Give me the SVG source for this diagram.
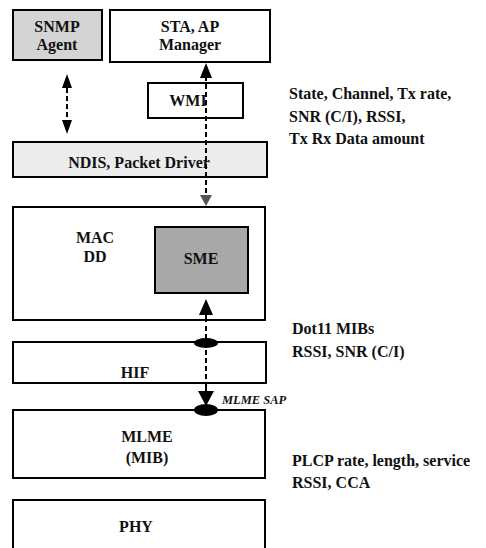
<svg xmlns="http://www.w3.org/2000/svg" width="486" height="548" viewBox="0 0 486 548">
<style>
.box{fill:#fff;stroke:#000;stroke-width:2}
.lbl{font-family:'Liberation Serif','Times New Roman',serif;font-size:16px;font-weight:bold;text-anchor:middle;fill:#111}
.note{font-family:'Liberation Serif','Times New Roman',serif;font-size:16px;font-weight:bold;fill:#111}
.dash{stroke:#000;stroke-width:2;stroke-dasharray:5,3;fill:none}
.solid{stroke:#000;stroke-width:2;fill:none}
</style>
<rect width="486" height="548" fill="#fff"/>
<g id="snmp"><rect class="box" x="13" y="10" width="89" height="50" style="fill:#d4d4d4"/><text class="lbl" x="57" y="32">SNMP</text><text class="lbl" x="57" y="50">Agent</text></g>
<g id="sta"><rect class="box" x="110" y="10" width="160" height="52"/><text class="lbl" x="190" y="32">STA, AP</text><text class="lbl" x="190" y="50">Manager</text></g>
<g id="wmi"><rect class="box" x="148" y="83" width="95" height="35"/><text class="lbl" x="188" y="106">WMI</text></g>
<g id="ndis"><rect class="box" x="13" y="142" width="254" height="35" style="fill:#ececec"/><text class="lbl" x="139" y="168">NDIS, Packet Driver</text></g>
<g id="mac"><rect class="box" x="13" y="207" width="252" height="113"/><text class="lbl" x="95" y="243">MAC</text><text class="lbl" x="95" y="262">DD</text></g>
<g id="sme"><rect class="box" x="155" y="227" width="93" height="66" style="fill:#a8a8a8"/><text class="lbl" x="201" y="264">SME</text></g>
<g id="hif"><rect class="box" x="13" y="342" width="253" height="41"/><text class="lbl" x="135" y="378">HIF</text></g>
<g id="mlme"><rect class="box" x="13" y="410" width="252" height="68"/><text class="lbl" x="147" y="442">MLME</text><text class="lbl" x="147" y="463">(MIB)</text></g>
<g id="phy"><path class="solid" d="M13,548 V500 H265 V548"/><text class="lbl" x="136" y="532">PHY</text></g>
<g id="connectors">
<line class="dash" x1="67" y1="88" x2="67" y2="120"/>
<path d="M62,88 L67,74 L72,88 z" fill="#000"/>
<path d="M62,120 L67,134 L72,120 z" fill="#000"/>
<line class="dash" x1="206" y1="76" x2="206" y2="196"/>
<path d="M200,78 L206,63 L212,78 z" fill="#000"/>
<path d="M200,195 L206,206 L212,195 z" fill="#555"/>
<line class="solid" x1="206" y1="313" x2="206" y2="322"/>
<path d="M199,315 L206,299 L213,315 z" fill="#000"/>
<line class="dash" x1="206" y1="326" x2="206" y2="383"/>
<ellipse cx="206" cy="343" rx="12" ry="5" fill="#000"/>
<line class="solid" x1="206" y1="383" x2="206" y2="394"/>
<path d="M198,391 L214,391 L206,406 z" fill="#000"/>
<ellipse cx="206" cy="410" rx="12" ry="6" fill="#000"/>
<text class="note" x="222" y="404" style="font-style:italic;font-size:12.5px">MLME SAP</text>
</g>
<g id="notes">
<text class="note" x="289" y="99">State, Channel, Tx rate,</text>
<text class="note" x="289" y="122">SNR (C/I), RSSI,</text>
<text class="note" x="289" y="144">Tx Rx Data amount</text>
<text class="note" x="292" y="334">Dot11 MIBs</text>
<text class="note" x="292" y="357">RSSI, SNR (C/I)</text>
<text class="note" x="292" y="466">PLCP rate, length, service</text>
<text class="note" x="292" y="488">RSSI, CCA</text>
</g>
</svg>
